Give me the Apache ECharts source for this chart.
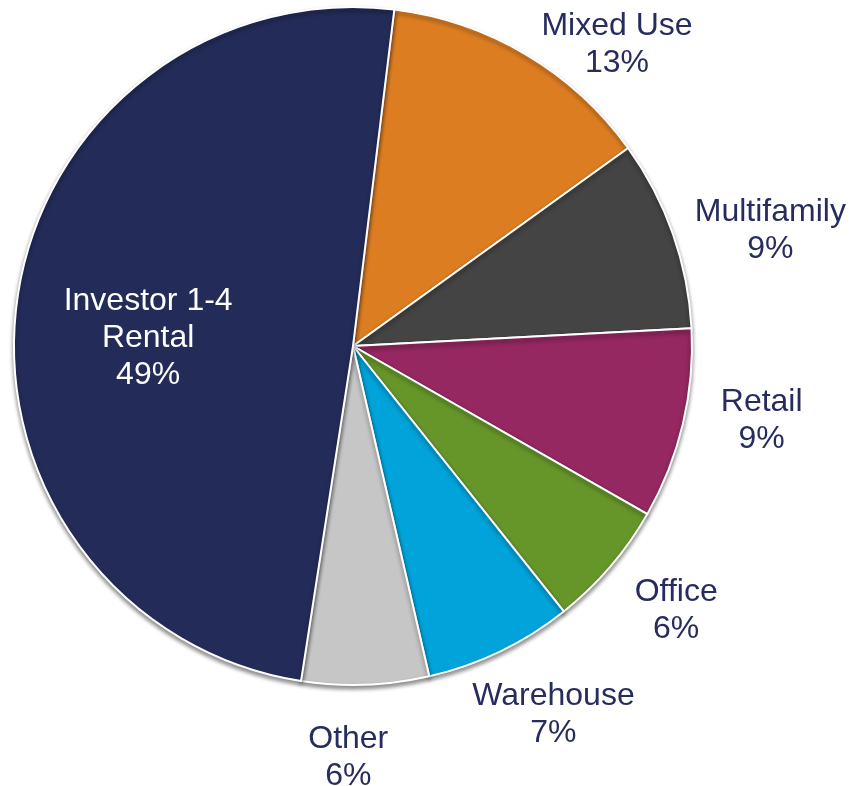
<!DOCTYPE html>
<html>
<head>
<meta charset="utf-8">
<script src="https://cdn.jsdelivr.net/npm/echarts@6/dist/echarts.min.js"></script>
<style>
  html, body { margin: 0; padding: 0; background: #fff; }
  #chart { width: 849px; height: 786px; }
</style>
</head>
<body>
<div id="chart"></div>
<script>
// slice order clockwise from the top
var names = ['Mixed Use', 'Multifamily', 'Retail', 'Office', 'Warehouse', 'Other', 'Investor 1-4\nRental'];
var values = [13, 9, 9, 6, 7, 6, 49];
var colors = ['#DD7D22', '#444444', '#952761', '#66962A', '#00A3DA', '#C6C6C6', '#232B59'];

// small hand nudges so labels sit where the original put them
var labelDx = [51, 23, 2, 6, 19, -20, -34];
var labelDy = [58, 23, -22, -8, -8, -6, 16];

var textColor = '#262D5E';
var font = '"Liberation Sans", Arial, sans-serif';

var myChart = echarts.init(document.getElementById('chart'));

var pieData = [];
var ringData = [];
for (var i = 0; i < names.length; i++) {
    var inner = (i == names.length - 1); // big slice gets its label inside
    pieData.push({
        name: names[i],
        value: values[i],
        itemStyle: { color: colors[i] },
        label: { show: inner }
    });
    ringData.push({
        name: names[i],
        value: values[i],
        label: { show: !inner }
    });
}

var labelFmt = function (p) {
    return p.name + '\n' + p.value + '%';
};

var nudge = function (p) {
    return { dx: labelDx[p.dataIndex], dy: labelDy[p.dataIndex] };
};

option = {
    animation: false,
    series: [
        {
            // invisible outer ring, only used to place the outside labels
            type: 'pie',
            center: [353, 346],
            radius: [339, 491],
            startAngle: 83,
            silent: true,
            itemStyle: { color: 'rgba(0,0,0,0)', borderWidth: 0 },
            label: {
                position: 'inside',
                formatter: labelFmt,
                color: textColor,
                fontFamily: font,
                fontSize: 32,
                lineHeight: 37
            },
            labelLine: { show: false },
            labelLayout: nudge,
            emphasis: { disabled: true },
            data: ringData
        },
        {
            type: 'pie',
            center: [353, 346],
            radius: [0, 339],
            startAngle: 83,
            silent: true,
            itemStyle: {
                borderColor: '#ffffff',
                borderWidth: 2,
                shadowColor: 'rgba(0,0,0,0.45)',
                shadowBlur: 4,
                shadowOffsetY: 3
            },
            label: {
                position: 'inside',
                formatter: labelFmt,
                color: '#ffffff',
                fontFamily: font,
                fontSize: 32,
                lineHeight: 37
            },
            labelLine: { show: false },
            labelLayout: nudge,
            emphasis: { disabled: true },
            data: pieData
        }
    ]
};

myChart.setOption(option);
</script>
</body>
</html>
